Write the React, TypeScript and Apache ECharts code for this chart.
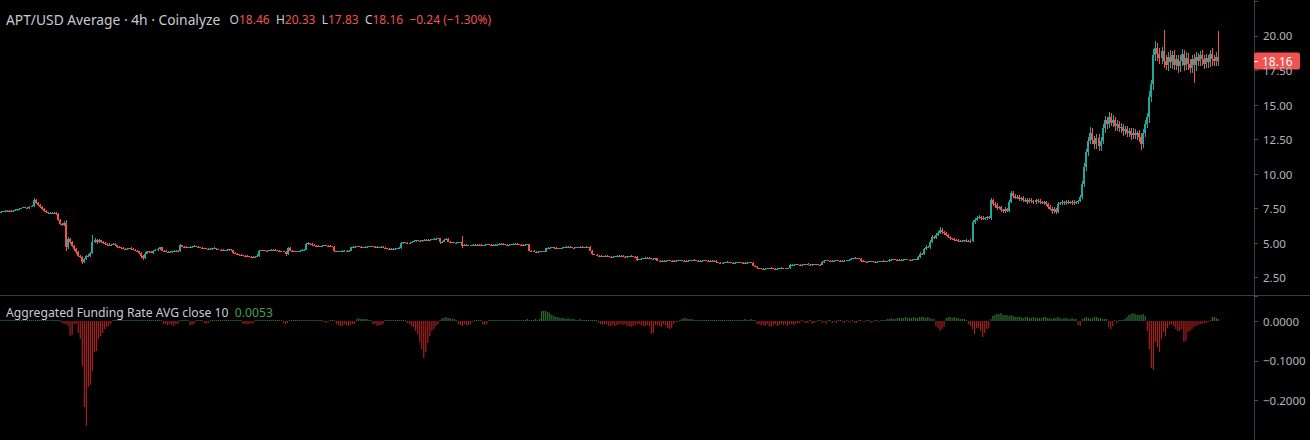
import React, { useEffect, useRef } from "react";
import * as echarts from "echarts";

// ---- DATA ----
const firstOpen = 7.25;
// close of each 4h candle
const closes = [
  7.28, 7.31, 7.34, 7.36, 7.33, 7.30, 7.35, 7.40, 7.45, 7.50,
  7.55, 7.60, 7.58, 7.55, 7.62, 7.70, 8.10, 7.92, 7.78, 7.62,
  7.48, 7.34, 7.22, 7.15, 7.18, 7.21, 7.16, 7.10, 6.70, 6.40,
  6.30, 6.45, 4.70, 5.30, 5.05, 4.80, 4.55, 4.35, 4.10, 4.00,
  3.62, 3.85, 4.10, 4.05, 4.30, 5.10, 5.25, 5.05, 5.20, 5.10,
  5.00, 4.95, 4.90, 4.85, 4.90, 4.95, 4.85, 4.75, 4.70, 4.65,
  4.60, 4.56, 4.60, 4.64, 4.58, 4.52, 4.46, 4.40, 4.30, 4.05,
  3.95, 4.25, 4.40, 4.35, 4.30, 4.45, 4.50, 4.55, 4.70, 4.45,
  4.42, 4.38, 4.35, 4.38, 4.42, 4.45, 4.42, 4.40, 4.85, 4.75,
  4.72, 4.70, 4.68, 4.72, 4.75, 4.78, 4.74, 4.70, 4.66, 4.64,
  4.62, 4.60, 4.58, 4.60, 4.62, 4.64, 4.58, 4.54, 4.50, 4.48,
  4.50, 4.52, 4.55, 4.48, 4.30, 4.25, 4.20, 4.15, 4.12, 4.10,
  4.08, 4.05, 4.03, 4.00, 3.98, 4.02, 4.06, 4.45, 4.50, 4.48,
  4.46, 4.44, 4.47, 4.50, 4.52, 4.48, 4.45, 4.42, 4.40, 4.38,
  4.20, 4.65, 4.45, 4.42, 4.40, 4.38, 4.42, 4.46, 4.50, 4.52,
  4.95, 5.00, 4.94, 4.88, 4.82, 4.80, 4.78, 4.80, 4.83, 4.86,
  4.82, 4.79, 4.77, 4.75, 4.42, 4.40, 4.38, 4.41, 4.44, 4.46,
  4.43, 4.45, 4.70, 4.72, 4.74, 4.76, 4.73, 4.71, 4.69, 4.72,
  4.74, 4.76, 4.78, 4.75, 4.72, 4.70, 4.72, 4.74, 4.68, 4.62,
  4.60, 4.58, 4.56, 4.58, 4.60, 4.62, 4.64, 5.00, 5.05, 5.02,
  4.99, 5.03, 5.08, 5.15, 5.20, 5.18, 5.16, 5.20, 5.24, 5.22,
  5.20, 5.24, 5.27, 5.30, 5.32, 5.34, 5.05, 5.10, 5.25, 5.30,
  5.10, 5.07, 5.05, 5.02, 5.04, 5.06, 5.08, 4.82, 4.88, 4.85,
  4.83, 4.86, 4.88, 4.90, 4.87, 4.85, 4.83, 4.86, 4.89, 4.92,
  4.90, 4.88, 4.86, 4.88, 4.90, 4.93, 4.95, 4.92, 4.90, 4.88,
  4.90, 4.92, 4.94, 4.96, 4.93, 4.90, 4.88, 4.86, 4.89, 4.91,
  4.45, 4.42, 4.39, 4.36, 4.38, 4.40, 4.42, 4.38, 4.62, 4.65,
  4.67, 4.69, 4.66, 4.63, 4.61, 4.64, 4.67, 4.70, 4.72, 4.74,
  4.71, 4.68, 4.66, 4.69, 4.72, 4.74, 4.71, 4.69, 4.72, 4.70,
  4.45, 4.20, 4.15, 4.10, 4.08, 4.05, 4.07, 4.09, 4.06, 4.03,
  4.01, 4.03, 4.05, 4.07, 4.09, 4.06, 4.03, 4.01, 4.04, 4.07,
  4.05, 4.02, 4.00, 3.80, 3.82, 3.86, 3.90, 3.92, 3.94, 3.91,
  3.88, 3.86, 3.90, 3.74, 3.72, 3.70, 3.72, 3.74, 3.76, 3.73,
  3.71, 3.69, 3.72, 3.75, 3.77, 3.74, 3.72, 3.70, 3.73, 3.76,
  3.78, 3.75, 3.72, 3.70, 3.72, 3.74, 3.76, 3.73, 3.71, 3.69,
  3.72, 3.74, 3.62, 3.60, 3.58, 3.60, 3.62, 3.64, 3.61, 3.59,
  3.57, 3.59, 3.61, 3.63, 3.60, 3.58, 3.56, 3.59, 3.62, 3.60,
  3.38, 3.30, 3.20, 3.18, 3.15, 3.13, 3.16, 3.18, 3.20, 3.17,
  3.15, 3.13, 3.16, 3.18, 3.20, 3.17, 3.15, 3.19, 3.40, 3.42,
  3.45, 3.47, 3.44, 3.42, 3.44, 3.46, 3.48, 3.45, 3.43, 3.46,
  3.48, 3.46, 3.44, 3.43, 3.65, 3.72, 3.75, 3.73, 3.70, 3.72,
  3.74, 3.76, 3.73, 3.71, 3.72, 3.74, 3.76, 3.78, 3.86, 3.90,
  3.92, 3.89, 3.86, 3.72, 3.70, 3.67, 3.65, 3.68, 3.70, 3.67,
  3.65, 3.67, 3.69, 3.71, 3.68, 3.66, 3.68, 3.78, 3.80, 3.82,
  3.80, 3.78, 3.76, 3.79, 3.81, 3.83, 3.80, 3.78, 3.80, 3.82,
  3.80, 4.02, 4.25, 4.20, 4.55, 4.75, 4.70, 5.10, 5.45, 5.35,
  5.60, 5.75, 5.95, 5.80, 5.70, 5.58, 5.45, 5.35, 5.30, 5.25,
  5.22, 5.18, 5.14, 5.17, 5.20, 5.15, 5.12, 5.18, 6.50, 6.70,
  6.85, 6.90, 6.82, 6.76, 6.80, 6.86, 6.80, 8.10, 7.85, 7.75,
  7.55, 7.60, 7.40, 7.30, 7.45, 7.35, 8.00, 8.65, 8.45, 8.30,
  8.35, 8.20, 8.25, 8.10, 8.15, 8.00, 8.12, 8.05, 7.95, 8.10,
  8.05, 8.00, 7.90, 7.95, 7.80, 7.65, 7.50, 7.30, 7.45, 7.25,
  7.85, 7.90, 7.95, 7.88, 8.00, 7.92, 7.98, 7.90, 8.00, 7.95,
  8.05, 8.35, 9.30, 10.50, 11.60, 12.40, 13.00, 12.50, 12.20, 12.60,
  12.00, 12.40, 13.30, 13.90, 13.60, 14.10, 13.70, 13.90, 13.45, 13.60,
  13.30, 13.40, 13.10, 13.25, 12.95, 13.10, 12.85, 13.00, 12.80, 12.95,
  12.70, 12.20, 13.00, 13.60, 14.10, 15.60, 16.50, 18.60, 19.10, 18.70,
  18.40, 18.90, 18.20, 17.90, 18.50, 18.10, 18.60, 17.90, 18.30, 17.80,
  18.20, 18.70, 17.90, 18.40, 18.00, 17.70, 18.30, 17.90, 18.50, 18.20,
  18.60, 18.30, 18.00, 18.40, 18.10, 18.70, 18.30, 18.20, 18.46, 18.16,
];
// upper wick above the body, in cents
const upperWickCents = [
  4,3,5,2,6,4,3,5,4,6,3,5,4,7,5,6,20,8,5,6,
  4,6,3,5,4,8,5,6,10,7,8,12,25,15,10,8,6,9,5,7,
  6,8,5,10,7,50,12,8,10,6,9,7,5,8,6,4,7,5,6,4,
  5,4,6,3,5,4,6,5,3,4,6,8,5,4,6,5,7,9,5,4,
  3,5,4,6,3,4,5,6,10,5,4,6,3,5,4,6,3,5,4,3,
  4,3,5,4,3,5,4,3,4,5,3,4,5,3,6,4,5,3,4,5,
  3,4,5,3,4,6,12,5,4,3,5,4,3,5,4,3,4,5,3,4,
  6,8,5,4,3,5,4,6,8,5,6,5,4,5,3,4,5,3,4,3,
  4,3,5,4,6,3,4,5,3,4,5,8,5,4,3,5,4,6,3,4,
  3,4,5,3,4,5,3,4,3,5,4,3,4,5,3,4,5,8,5,4,
  5,4,6,8,5,4,6,4,5,3,5,4,6,5,4,5,4,6,8,5,
  4,5,3,4,5,3,4,47,6,4,5,3,4,5,3,4,6,3,5,4,
  3,4,5,3,4,5,3,4,3,5,4,3,5,4,3,4,5,3,4,3,
  4,3,5,4,3,5,4,3,6,4,5,3,4,5,4,3,5,4,6,5,
  4,3,5,4,3,4,5,3,4,3,6,5,3,4,3,4,3,5,4,3,
  4,3,5,4,3,4,5,3,4,3,5,4,3,4,5,4,3,5,4,3,
  4,5,3,4,3,5,4,3,4,5,3,4,3,5,4,3,4,5,3,4,
  3,4,5,3,4,3,5,4,3,4,3,5,4,3,4,5,3,4,3,4,
  5,3,4,3,4,5,3,4,5,3,4,6,5,3,4,3,5,4,3,4,
  3,4,3,5,4,3,4,3,6,5,4,3,4,5,3,4,3,5,4,3,
  4,3,5,4,8,5,4,3,4,5,3,4,3,5,4,3,4,5,6,4,
  5,3,4,3,4,3,5,4,3,4,5,3,4,3,4,5,3,6,4,3,
  4,3,5,4,3,4,5,3,4,3,5,8,10,6,12,10,8,15,12,10,
  15,10,20,12,8,10,6,8,5,7,6,5,8,6,5,7,6,15,20,12,
  10,15,8,12,10,8,12,15,10,12,15,10,12,8,15,10,12,15,10,12,
  15,12,10,15,12,10,12,15,10,12,10,15,8,12,10,8,10,12,15,10,
  12,10,15,8,12,10,8,12,10,8,10,15,20,30,25,30,40,35,25,30,
  30,25,35,30,25,40,30,35,25,30,25,30,20,25,20,25,20,30,25,20,
  25,30,25,30,35,40,30,45,50,40,40,30,150,45,35,50,30,40,35,30,
  40,35,30,45,40,35,30,40,35,30,30,40,35,30,25,25,45,30,35,187,
];
// lower wick below the body, in cents
const lowerWickCents = [
  3,5,4,6,3,5,4,3,6,4,5,3,6,4,5,3,6,10,8,6,
  8,5,6,4,7,5,6,8,12,10,6,8,30,12,10,8,12,10,8,10,
  12,8,10,6,8,10,12,8,6,10,8,6,9,5,7,6,4,8,5,6,
  4,6,5,4,6,5,4,6,8,15,15,10,6,5,4,6,5,4,6,5,
  4,5,3,4,6,5,4,3,5,4,6,3,5,4,3,5,4,6,3,5,
  4,5,3,4,6,4,5,3,4,5,3,4,6,3,8,5,4,6,3,5,
  4,5,3,6,4,5,3,4,5,3,4,5,3,4,5,3,4,5,3,4,
  10,5,4,6,3,5,4,3,5,4,3,5,4,6,3,4,5,3,4,5,
  3,4,5,3,6,4,5,3,4,5,3,4,5,3,4,5,3,4,5,3,
  4,5,3,4,5,3,4,5,3,6,5,4,3,5,4,3,4,5,3,4,
  3,4,5,3,4,5,3,4,5,3,4,5,3,4,5,3,8,5,4,5,
  4,3,5,4,3,5,4,16,5,4,3,5,4,3,5,4,3,5,4,3,
  4,3,5,4,3,5,4,3,4,5,3,4,5,3,4,3,5,4,3,4,
  5,4,6,3,5,4,6,3,4,5,3,4,5,3,4,5,3,4,5,3,
  4,5,3,4,5,3,4,5,3,4,5,6,4,5,3,4,5,3,4,5,
  3,4,5,3,4,5,3,4,5,3,4,5,3,6,4,5,3,4,5,3,
  4,3,5,4,3,5,4,3,5,4,3,5,4,3,5,4,3,5,4,3,
  4,5,3,4,5,3,4,5,3,4,5,3,4,5,3,4,5,3,4,5,
  3,4,5,3,4,5,3,4,5,3,6,5,4,3,5,4,3,5,4,3,
  4,5,3,4,5,3,4,5,3,4,5,3,4,5,3,4,5,3,4,5,
  3,4,5,3,4,5,3,4,5,3,4,5,3,4,5,3,4,5,3,4,
  5,3,4,6,4,5,3,4,5,3,4,5,3,4,5,3,4,5,3,4,
  5,3,4,5,3,4,5,3,4,5,3,4,6,5,8,6,5,10,8,6,
  8,10,6,12,10,8,6,10,8,6,8,6,5,8,6,5,7,8,10,12,
  8,10,12,8,10,12,8,10,15,20,12,10,15,12,10,8,12,10,15,12,
  10,12,15,10,12,15,10,12,15,10,12,15,10,12,10,15,12,20,15,12,
  10,12,15,10,12,8,10,12,15,10,12,10,15,20,25,30,25,30,35,40,
  35,30,25,30,35,30,25,30,35,30,25,30,35,30,25,30,35,30,25,30,
  35,45,30,35,30,40,35,40,45,50,45,40,50,35,45,40,50,35,40,45,
  40,35,45,40,50,35,40,130,45,40,35,45,40,35,40,35,45,40,35,33,
];
// Aggregated funding rate, in units of 0.0001
const fundingE4 = [
  30, 25, 35, 40, 30, 20, 25, 35, 30, 40, 45, 35, 30, 25, 40, 35, 30, 20, 25, 30,
  35, 30, 40, 25, 20, 30, 25, 35, 30, 20, -40, -60, -80, -120, -360, -350, -80, -60, -290, -450,
  -1140, -2160, -2650, -1670, -1600, -1260, -770, -740, -450, -360, -290, -200, -155, -110, -70, 20, 30, 25, 35, 30,
  25, 30, 20, 35, 30, 25, 40, 30, 35, 25, 30, 20, 25, 30, 35, 25, 30, 20, 25, 30,
  -60, -80, -100, -70, -90, -110, -80, -60, 20, 25, 30, 20, 25, -90, -100, -80, 20, 25, 30, 25,
  -50, -60, -40, 20, 30, 25, 35, 40, 30, 25, 20, 30, 25, 35, 30, 25, 20, 30, 25, -60,
  -70, -60, -80, -50, -60, 20, 25, 30, 25, 20, 30, 35, 40, 30, 25, 30, 20, 25, 30, -50,
  -60, -40, 20, 30, 35, 30, 25, 30, 35, 40, 30, 25, 35, 30, 40, 35, 30, 25, 30, -30,
  -40, -30, 20, 30, 25, -70, -90, -120, -110, -80, -100, -130, -90, -70, -60, 60, 80, 70, 60, 50,
  70, 40, 20, -60, -80, -110, -90, -100, -70, 20, 25, 30, 20, 25, 30, 35, 40, 30, 25, 20,
  -40, -70, -110, -150, -240, -330, -520, -700, -930, -770, -560, -360, -250, -190, -110, -70, 30, 80, 90, 100,
  80, 90, 70, 60, 30, -70, -90, -110, -80, -100, -90, -60, -30, 30, 40, 25, 20, -80, -100, -70,
  20, 25, 30, 35, 40, 35, 30, 40, 45, 35, 30, 40, 35, 45, 40, 35, 30, 40, 45, 50,
  45, 40, 35, 50, 45, 60, 270, 260, 250, 230, 210, 160, 130, 120, 100, 90, 80, 85, 70, 75,
  60, 55, 50, 45, 40, 50, 45, 35, 40, 30, 35, 30, 25, 20, -40, -60, -90, -80, -70, -110,
  -130, -100, -120, -90, -80, -70, -100, -80, -120, -130, -150, -110, -90, -70, -80, -90, -110, -120, -100, -130,
  -320, -300, -100, -90, -120, -150, -80, -90, -170, -200, -180, -60, -30, -20, 30, 60, 80, 90, 70, 60,
  50, 40, 45, 35, 30, 40, 35, 30, 25, 35, 30, 40, 35, 30, 25, 40, 35, 30, 45, 40,
  35, 30, 40, 35, 45, 40, 50, 45, 40, 50, 45, 40, -60, -80, -100, -90, -120, -70, -110, -140,
  -90, -80, -120, -100, -60, -90, -70, -110, -80, -60, -100, -70, -50, -40, 20, -30, -50, -40, 15, -60,
  -40, -30, 20, 25, -50, -30, -60, 20, 15, -40, -20, -50, 20, 25, -30, -40, 20, -20, -30, 15,
  -40, -50, 20, 25, -30, -20, 15, 20, -40, -30, 25, 20, -20, 15, 30, 20, 60, 70, 80, 65,
  70, 80, 90, 75, 85, 100, 90, 80, 95, 110, 90, 85, 100, 120, 110, 90, 100, 80, 70, 60,
  -130, -180, -240, -200, -150, 90, 100, 110, 90, 100, 80, 90, 70, 60, 50, 40, -80, -120, -200, -320,
  -180, -160, -240, -400, -300, -200, -160, 50, 140, 160, 180, 190, 200, 170, 150, 160, 140, 150, 130, 110,
  120, 110, 100, 90, 110, 100, 90, 80, 100, 90, 80, 85, 90, 100, 110, 90, 80, 70, 85, 90,
  100, 80, 70, 90, 80, 60, 70, 80, 60, 50, -90, -110, 60, 80, 100, 90, 70, 80, 110, 100,
  90, 80, 70, 60, 50, -150, -200, -120, 30, -40, 20, 30, 40, 60, 120, 150, 180, 200, 190, 170,
  150, 160, 180, 140, -240, -690, -1180, -1220, -525, -650, -770, -440, -280, -360, -160, -100, -80, -120, -200, -240,
  -240, -200, -525, -500, -280, -240, -200, -150, -120, -100, -80, -60, -40, -50, -30, 40, 100, 110, 90, 53,
];
const emptySlotsRight = 17; // blank space right of the last candle
const headerTitle = "APT/USD Average · 4h · Coinalyze";
const headerOHLC = ["18.46", "20.33", "17.83", "18.16"];
const headerChange = "−0.24 (−1.30%)";
const fundingTitle = "Aggregated Funding Rate AVG close 10";
const fundingLast = "0.0053";

// ---- styles ----
const UP = "#26a69a";
const DOWN = "#ef5350";
const F_UP = "#2e7031";
const F_DOWN = "#a61f1f";
const TEXT = "#c9ccd4";
const AXIS_TEXT = "#b2b5be";
const SEP = "#3a3d46";
const FONT = "'Noto Sans', sans-serif";

export default function App() {
  const ref = useRef<HTMLDivElement>(null);

  useEffect(() => {
    if (!ref.current) return;
    const chart = echarts.init(ref.current, null, { renderer: "svg" });

    const candles = closes.map((c, i) => {
      const o = i === 0 ? firstOpen : closes[i - 1];
      const hi = Math.max(o, c) + upperWickCents[i] / 100;
      const lo = Math.min(o, c) - lowerWickCents[i] / 100;
      return [i, o, c, lo, hi];
    });
    const total = closes.length + emptySlotsRight;
    const cats = Array.from({ length: total }, (_, i) => String(i));
    const funding = fundingE4.map((v, i) => [i, v / 10000]);
    const lastClose = closes[closes.length - 1];

    const fmtFunding = (v: number) => {
      if (v > 0.0001 || v < -0.25) return "";
      const a = Math.abs(v);
      return (v < -0.00001 ? "−" : "") + a.toFixed(4);
    };

    const renderCandle = (params: any, api: any) => {
      const idx = api.value(0);
      const o = api.value(1);
      const c = api.value(2);
      const lo = api.value(3);
      const hi = api.value(4);
      const pO = api.coord([idx, o]);
      const pC = api.coord([idx, c]);
      const pL = api.coord([idx, lo]);
      const pH = api.coord([idx, hi]);
      const color = c >= o ? UP : DOWN;
      const left = Math.round(pO[0] - 1);
      const top = Math.round(Math.min(pO[1], pC[1]));
      const bottom = Math.round(Math.max(pO[1], pC[1]));
      const wx = left + 1.5;
      return {
        type: "group",
        children: [
          {
            type: "line",
            shape: { x1: wx, y1: Math.round(pH[1]), x2: wx, y2: Math.round(pL[1]) },
            style: { stroke: color, lineWidth: 1 },
          },
          {
            type: "rect",
            shape: { x: left, y: top, width: 2, height: Math.max(1, bottom - top) },
            style: { fill: color },
          },
        ],
      };
    };

    const renderFunding = (params: any, api: any) => {
      const idx = api.value(0);
      const v = api.value(1);
      const p0 = api.coord([idx, 0]);
      const p1 = api.coord([idx, v]);
      const y0 = Math.round(p0[1]);
      const y1 = Math.round(p1[1]);
      const h = Math.max(1, Math.abs(y1 - y0));
      return {
        type: "rect",
        shape: { x: p0[0] - 0.6, y: v >= 0 ? y0 - h : y0, width: 1.2, height: h },
        style: { fill: v >= 0 ? F_UP : F_DOWN },
      };
    };

    chart.setOption({
      animation: false,
      backgroundColor: "#000000",
      textStyle: { fontFamily: FONT },
      grid: [
        { left: 0, right: 56, top: 1.4, height: 276.3 },
        { left: 0, right: 56, top: 296, height: 148.1 },
      ],
      xAxis: [
        { type: "category", gridIndex: 0, data: cats, show: false },
        { type: "category", gridIndex: 1, data: cats, show: false },
      ],
      yAxis: [
        {
          type: "value",
          gridIndex: 0,
          position: "right",
          min: 2.5,
          max: 22.5,
          interval: 2.5,
          axisLine: { show: false },
          splitLine: { show: false },
          axisTick: { show: true, length: 4, lineStyle: { color: "#4a4d57" } },
          axisLabel: {
            color: AXIS_TEXT,
            fontSize: 11.5,
            fontFamily: FONT,
            margin: 9,
            formatter: (v: number) => (v > 22 ? "" : v.toFixed(2)),
          },
        },
        {
          type: "value",
          gridIndex: 1,
          position: "right",
          min: -0.3,
          max: 0.0639,
          interval: 0.1,
          axisLine: { show: false },
          splitLine: { show: false },
          axisTick: { show: true, length: 4, lineStyle: { color: "#4a4d57" } },
          axisLabel: {
            color: AXIS_TEXT,
            fontSize: 11.5,
            fontFamily: FONT,
            margin: 9,
            formatter: fmtFunding,
          },
        },
      ],
      series: [
        {
          type: "custom",
          name: "APT/USD",
          xAxisIndex: 0,
          yAxisIndex: 0,
          data: candles,
          encode: { x: 0, y: [1, 2, 3, 4] },
          renderItem: renderCandle,
          clip: true,
        },
        {
          type: "custom",
          name: "Funding",
          xAxisIndex: 1,
          yAxisIndex: 1,
          data: funding,
          encode: { x: 0, y: 1 },
          renderItem: renderFunding,
          clip: true,
        },
      ],
    });

    // last-price tag on the price axis, positioned through the axis scale
    const yLast = chart.convertToPixel({ yAxisIndex: 0 }, lastClose) as number;

    chart.setOption({
      graphic: [
        {
          id: "vsep",
          type: "line",
          silent: true,
          shape: { x1: 1254.5, y1: 0, x2: 1254.5, y2: 440 },
          style: { stroke: SEP, lineWidth: 1 },
        },
        {
          id: "hsep",
          type: "line",
          silent: true,
          shape: { x1: 0, y1: 295.5, x2: 1310, y2: 295.5 },
          style: { stroke: SEP, lineWidth: 1 },
        },
        {
          id: "header",
          type: "text",
          x: 6,
          y: 19,
          style: {
            text:
              `{t|${headerTitle}}   {k|O}{v|${headerOHLC[0]}}  {k|H}{v|${headerOHLC[1]}}  ` +
              `{k|L}{v|${headerOHLC[2]}}  {k|C}{v|${headerOHLC[3]}}  {v|${headerChange}}`,
            verticalAlign: "middle",
            font: `12px ${FONT}`,
            fill: TEXT,
            rich: {
              t: { fill: TEXT, font: `13.8px ${FONT}` },
              k: { fill: TEXT, font: `12px ${FONT}` },
              v: { fill: DOWN, font: `12px ${FONT}` },
            },
          },
        },
        {
          id: "fundingLabel",
          type: "text",
          x: 6,
          y: 312,
          style: {
            text: `{t|${fundingTitle}}  {g|${fundingLast}}`,
            verticalAlign: "middle",
            font: `12.2px ${FONT}`,
            fill: TEXT,
            rich: {
              t: { fill: TEXT, font: `12.2px ${FONT}` },
              g: { fill: "#43a047", font: `12.2px ${FONT}` },
            },
          },
        },
        {
          id: "lastPrice",
          type: "group",
          x: 1254,
          y: Math.round(yLast),
          z: 100,
          children: [
            {
              type: "rect",
              shape: { x: 0, y: -8.5, width: 46, height: 17, r: 2 },
              style: { fill: DOWN },
            },
            {
              type: "line",
              shape: { x1: 0, y1: 0.5, x2: 4, y2: 0.5 },
              style: { stroke: "#ffffff", lineWidth: 1 },
            },
            {
              type: "text",
              x: 8,
              y: 0,
              style: {
                text: lastClose.toFixed(2),
                fill: "#ffffff",
                font: `12px ${FONT}`,
                verticalAlign: "middle",
              },
            },
          ],
        },
      ],
    });

    return () => chart.dispose();
  }, []);

  return (
    <div
      ref={ref}
      style={{
        position: "absolute",
        left: 0,
        top: 0,
        width: 1310,
        height: 440,
        background: "#000",
      }}
    />
  );
}
